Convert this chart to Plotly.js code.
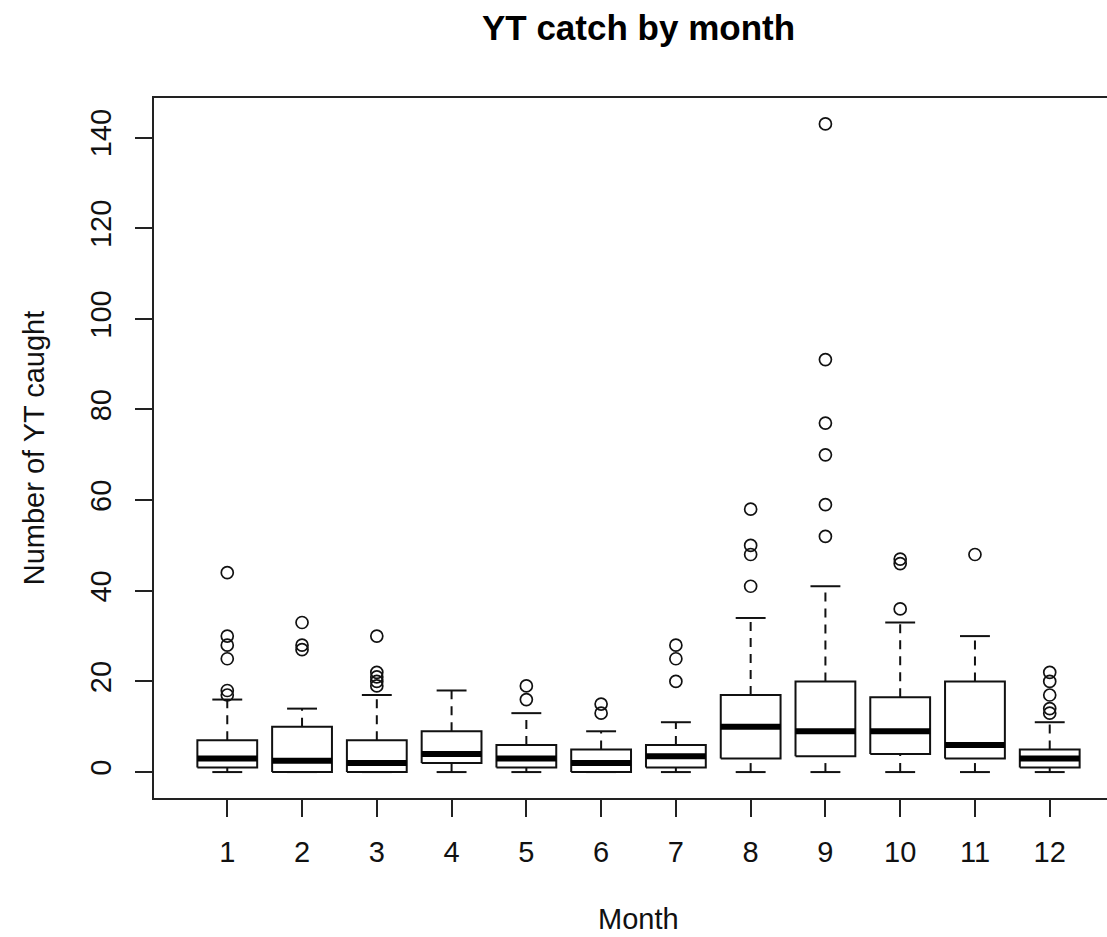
<!DOCTYPE html>
<html>
<head>
<meta charset="utf-8">
<script src="https://cdn.plot.ly/plotly-3.0.1.min.js"></script>
<style>
  html, body { margin: 0; padding: 0; background: #fff; overflow: hidden; }
  #chart { width: 1130px; height: 937px; }
</style>
</head>
<body>
<div id="chart"></div>
<script>
// Monthly YT catch summaries (Tukey box statistics per month)
const months = [1, 2, 3, 4, 5, 6, 7, 8, 9, 10, 11, 12];
const monthLabels = ["1", "2", "3", "4", "5", "6", "7", "8", "9", "10", "11", "12"];
const lowerWhisker = [0, 0, 0, 0, 0, 0, 0, 0, 0, 0, 0, 0];
const q1 = [1, 0, 0, 2, 1, 0, 1, 3, 3.5, 4, 3, 1];
const median = [3, 2.5, 2, 4, 3, 2, 3.5, 10, 9, 9, 6, 3];
const q3 = [7, 10, 7, 9, 6, 5, 6, 17, 20, 16.5, 20, 5];
const upperWhisker = [16, 14, 17, 18, 13, 9, 11, 34, 41, 33, 30, 11];
const outliers = [
  [44, 30, 28, 25, 18, 17],
  [33, 28, 27],
  [30, 22, 21, 20, 19],
  [],
  [19, 16],
  [15, 13],
  [28, 25, 20],
  [58, 50, 48, 41],
  [143, 91, 77, 70, 59, 52],
  [47, 46, 36],
  [48],
  [22, 20, 17, 14, 13]
];
const yTicks = [0, 20, 40, 60, 80, 100, 120, 140];

const BOX_HALF = 0.4;     // box width 0.8 in month units
const CAP_HALF = 0.2;     // staples half the box width
const FONT = "Liberation Sans, Arial, Helvetica, sans-serif";
const INK = "#111111";

// Collect line segments (null-separated) for each element type
const boxX = [], boxY = [];
const medX = [], medY = [];
const whiskX = [], whiskY = [];
const capX = [], capY = [];
const outX = [], outY = [];

months.forEach((m, i) => {
  boxX.push(m - BOX_HALF, m + BOX_HALF, m + BOX_HALF, m - BOX_HALF, m - BOX_HALF, null);
  boxY.push(q1[i], q1[i], q3[i], q3[i], q1[i], null);

  medX.push(m - BOX_HALF, m + BOX_HALF, null);
  medY.push(median[i], median[i], null);

  if (upperWhisker[i] > q3[i]) {
    whiskX.push(m, m, null);
    whiskY.push(q3[i], upperWhisker[i], null);
  }
  if (lowerWhisker[i] < q1[i]) {
    whiskX.push(m, m, null);
    whiskY.push(lowerWhisker[i], q1[i], null);
  }

  capX.push(m - CAP_HALF, m + CAP_HALF, null, m - CAP_HALF, m + CAP_HALF, null);
  capY.push(upperWhisker[i], upperWhisker[i], null, lowerWhisker[i], lowerWhisker[i], null);

  outliers[i].forEach(v => { outX.push(m); outY.push(v); });
});

const traces = [
  { type: "scatter", mode: "lines", x: whiskX, y: whiskY, hoverinfo: "skip",
    line: { color: INK, width: 2, dash: "9px,7px" } },
  { type: "scatter", mode: "lines", x: capX, y: capY, hoverinfo: "skip",
    line: { color: INK, width: 2 } },
  { type: "scatter", mode: "lines", x: boxX, y: boxY, hoverinfo: "skip",
    line: { color: INK, width: 2 } },
  { type: "scatter", mode: "lines", x: medX, y: medY, hoverinfo: "skip",
    line: { color: "#000", width: 6 } },
  { type: "scatter", mode: "markers", x: outX, y: outY,
    marker: { symbol: "circle-open", size: 12, color: INK, line: { width: 1.7, color: INK } } }
];

const layout = {
  width: 1130,
  height: 937,
  margin: { l: 154, r: 7, t: 98, b: 139 },
  paper_bgcolor: "#fff",
  plot_bgcolor: "#fff",
  showlegend: false,
  font: { family: FONT, color: "#000", size: 29 },
  title: {
    text: "<b>YT catch by month</b>",
    font: { family: FONT, size: 35, color: "#000" },
    xref: "paper", x: 0.5, xanchor: "center",
    yref: "container", y: 1 - 28 / 937, yanchor: "middle"
  },
  annotations: [{
    text: "Month",
    xref: "paper", yref: "paper", x: 0.5, y: -0.173,
    xanchor: "center", yanchor: "middle", showarrow: false, borderpad: 0,
    font: { family: FONT, size: 29, color: "#111" }
  }],
  xaxis: {
    range: [0.02, 12.98],
    tickmode: "array",
    tickvals: months,
    ticktext: monthLabels,
    ticks: "outside", ticklen: 17, tickwidth: 2, tickcolor: "#222",
    ticklabelstandoff: 10,
    showline: true, linecolor: "#222", linewidth: 2, mirror: true,
    showgrid: false, zeroline: false,
    tickfont: { family: FONT, size: 29, color: "#111" }
  },
  yaxis: {
    range: [-5.72, 148.72],
    tickmode: "array",
    tickvals: yTicks,
    ticktext: yTicks.map(String),
    tickangle: -90,
    ticks: "outside", ticklen: 17, tickwidth: 2, tickcolor: "#222",
    ticklabelstandoff: 12,
    showline: true, linecolor: "#222", linewidth: 2, mirror: true,
    showgrid: false, zeroline: false,
    tickfont: { family: FONT, size: 29, color: "#111" },
    title: { text: "Number of YT caught", font: { family: FONT, size: 29, color: "#111" }, standoff: 32 }
  }
};

Plotly.newPlot("chart", traces, layout, { displayModeBar: false, staticPlot: true });
</script>
</body>
</html>
